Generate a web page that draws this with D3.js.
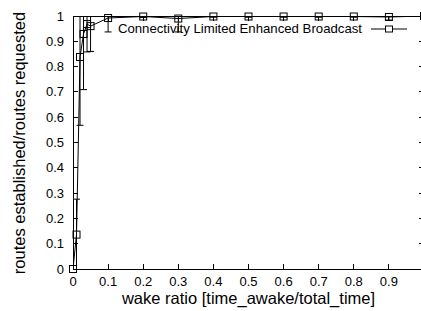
<!DOCTYPE html>
<html>
<head>
<meta charset="utf-8">
<script src="https://cdn.jsdelivr.net/npm/d3@7"></script>
<style>
  body { margin: 0; background: #fff; }
  text { font-family: "Liberation Sans", Arial, sans-serif; fill: #000; }
</style>
</head>
<body>
<div id="chart"></div>
<script>
// wake ratio samples
const wakeRatio = [0, 0.01, 0.02, 0.03, 0.04, 0.05, 0.1, 0.2, 0.3, 0.4, 0.5, 0.6, 0.7, 0.8, 0.9, 1.0];
// mean routes established / routes requested
const routeRatio = [0, 0.136, 0.838, 0.929, 0.968, 0.96, 0.992, 0.998, 0.99, 0.998, 0.998, 0.998, 0.998, 0.998, 0.996, 1.0];
// error (+/-)
const routeErr = [0, 0.14, 0.27, 0.22, 0.11, 0.10, 0.055, 0.004, 0.053, 0.003, 0.003, 0.003, 0.003, 0.003, 0.012, 0];
const xTicks = [0, 0.1, 0.2, 0.3, 0.4, 0.5, 0.6, 0.7, 0.8, 0.9, 1.0];
const yTicks = [0, 0.1, 0.2, 0.3, 0.4, 0.5, 0.6, 0.7, 0.8, 0.9, 1];
const seriesName = "Connectivity Limited Enhanced Broadcast";

const W = 421, H = 311;
const margin = {top: 16, right: -3, bottom: 42, left: 73};

const svg = d3.select("#chart").append("svg")
    .attr("width", W).attr("height", H)
    .attr("viewBox", [0, 0, W, H]);

const x = d3.scaleLinear().domain([0, 1]).range([margin.left, W - margin.right]);
const y = d3.scaleLinear().domain([0, 1]).range([H - margin.bottom, margin.top]);

const data = wakeRatio.map((w, i) => ({x: w, y: routeRatio[i], e: routeErr[i]}));

// ticks (gnuplot style, inward and mirrored)
const tickLen = 5;
const ax = svg.append("g").attr("stroke", "#000").attr("stroke-width", 1).attr("shape-rendering", "crispEdges");
yTicks.forEach(t => {
    ax.append("line").attr("x1", x(0)).attr("x2", x(0) + tickLen).attr("y1", y(t)).attr("y2", y(t));
    ax.append("line").attr("x1", x(1)).attr("x2", x(1) - tickLen).attr("y1", y(t)).attr("y2", y(t));
});
xTicks.forEach(t => {
    ax.append("line").attr("x1", x(t)).attr("x2", x(t)).attr("y1", y(0)).attr("y2", y(0) - tickLen);
    ax.append("line").attr("x1", x(t)).attr("x2", x(t)).attr("y1", y(1)).attr("y2", y(1) + tickLen);
});
ax.append("rect").attr("x", x(0)).attr("y", y(1))
    .attr("width", x(1) - x(0)).attr("height", y(0) - y(1)).attr("fill", "none");

// tick labels
svg.append("g").selectAll("text").data(yTicks).join("text")
    .attr("x", margin.left - 9).attr("y", d => y(d)).attr("dy", "0.35em")
    .attr("text-anchor", "end").attr("font-size", 13)
    .text(d => d3.format("")(d));
svg.append("g").selectAll("text").data(xTicks.filter(t => t < 1)).join("text")
    .attr("x", d => x(d)).attr("y", 286)
    .attr("text-anchor", "middle").attr("font-size", 13)
    .text(d => d3.format("")(d));

// axis titles
svg.append("text").attr("x", (margin.left + W - margin.right) / 2).attr("y", 304)
    .attr("text-anchor", "middle").attr("font-size", 16.5)
    .text("wake ratio [time_awake/total_time]");
svg.append("text").attr("transform", "translate(25,143) rotate(-90)")
    .attr("text-anchor", "middle").attr("font-size", 16.5)
    .text("routes established/routes requested");

// clipped plot
svg.append("clipPath").attr("id", "clip").append("rect")
    .attr("x", x(0)).attr("y", y(1)).attr("width", x(1) - x(0)).attr("height", y(0) - y(1));
const plot = svg.append("g").attr("clip-path", "url(#clip)")
    .attr("stroke", "#000").attr("fill", "none").attr("stroke-width", 1);

const cap = 3.5;
data.forEach(d => {
    const g = plot.append("g");
    g.append("line").attr("x1", x(d.x)).attr("x2", x(d.x)).attr("y1", y(d.y - d.e)).attr("y2", y(d.y + d.e));
    if (d.e > 0) {
        g.append("line").attr("x1", x(d.x) - cap).attr("x2", x(d.x) + cap).attr("y1", y(d.y - d.e)).attr("y2", y(d.y - d.e));
        g.append("line").attr("x1", x(d.x) - cap).attr("x2", x(d.x) + cap).attr("y1", y(d.y + d.e)).attr("y2", y(d.y + d.e));
    }
});

plot.append("path").datum(data)
    .attr("d", d3.line().x(d => x(d.x)).y(d => y(d.y)));

const sq = 7;
svg.append("g").attr("stroke", "#000").attr("fill", "none")
    .selectAll("rect").data(data).join("rect")
    .attr("x", d => x(d.x) - sq / 2).attr("y", d => y(d.y) - sq / 2)
    .attr("width", sq).attr("height", sq);

// legend
const ly = 29;
svg.append("text").attr("x", 362).attr("y", 33).attr("text-anchor", "end")
    .attr("font-size", 13.2).text(seriesName);
svg.append("line").attr("x1", 371).attr("x2", 407).attr("y1", ly).attr("y2", ly).attr("stroke", "#000");
svg.append("rect").attr("x", 389 - sq / 2).attr("y", ly - sq / 2 + 0.5).attr("width", sq).attr("height", sq - 1)
    .attr("fill", "#fff").attr("stroke", "#000");
</script>
</body>
</html>
